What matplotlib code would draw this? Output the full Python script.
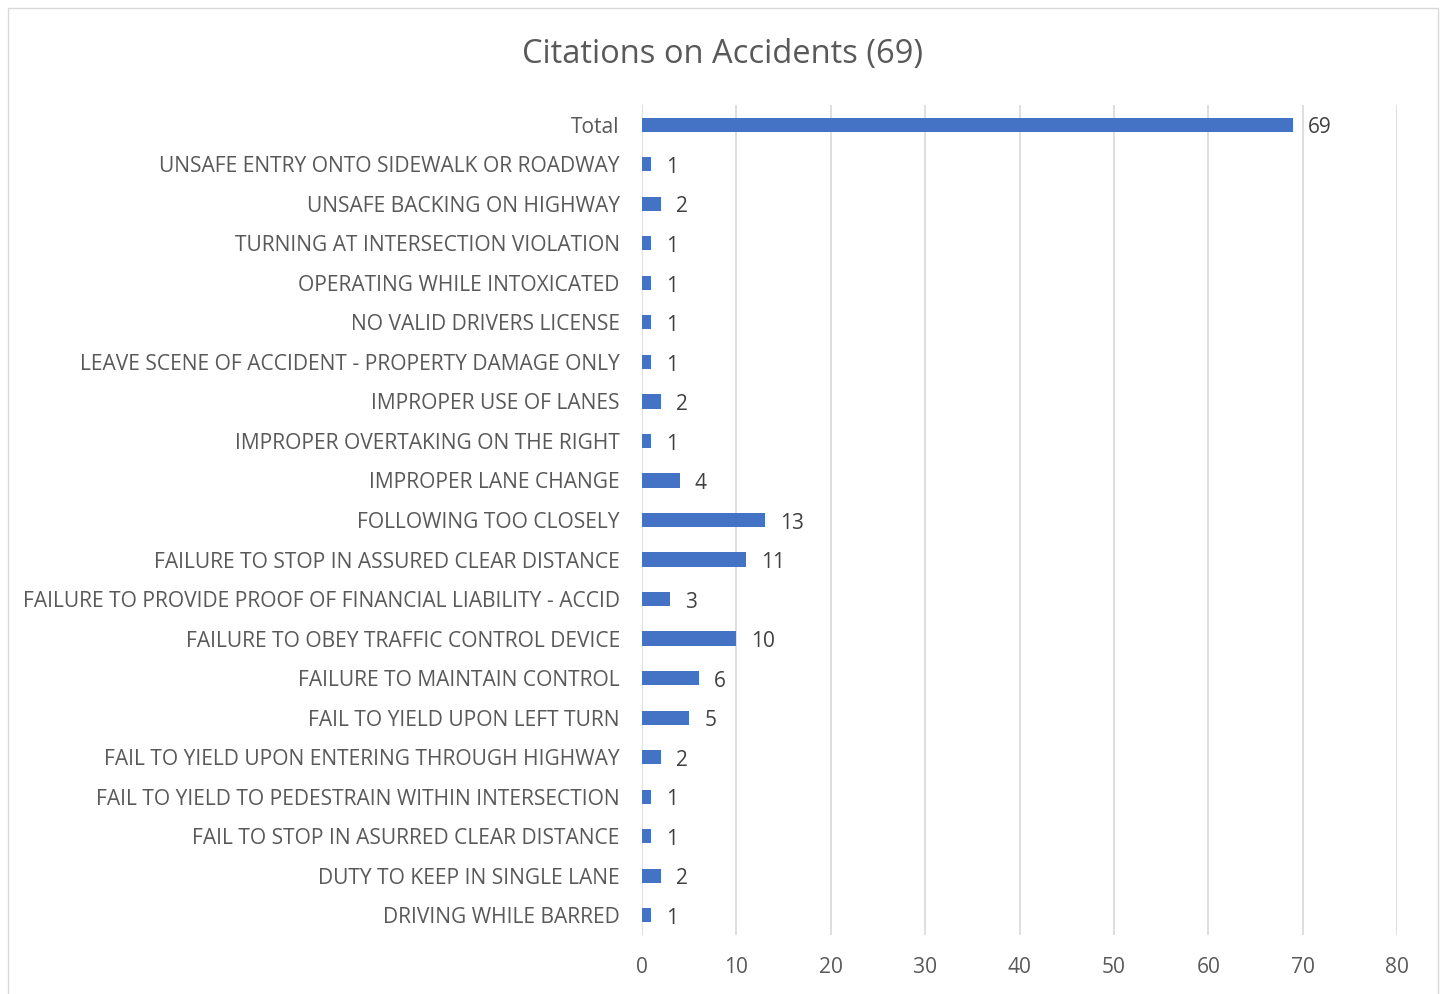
import matplotlib
matplotlib.use('Agg')
from matplotlib import pyplot as plt
from matplotlib.patches import Rectangle

categories = [
    'Total',
    'UNSAFE ENTRY ONTO SIDEWALK OR ROADWAY',
    'UNSAFE BACKING ON HIGHWAY',
    'TURNING AT INTERSECTION VIOLATION',
    'OPERATING WHILE INTOXICATED',
    'NO VALID DRIVERS LICENSE',
    'LEAVE SCENE OF ACCIDENT - PROPERTY DAMAGE ONLY',
    'IMPROPER USE OF LANES',
    'IMPROPER OVERTAKING ON THE RIGHT',
    'IMPROPER LANE CHANGE',
    'FOLLOWING TOO CLOSELY',
    'FAILURE TO STOP IN ASSURED CLEAR DISTANCE',
    'FAILURE TO PROVIDE PROOF OF FINANCIAL LIABILITY - ACCID',
    'FAILURE TO OBEY TRAFFIC CONTROL DEVICE',
    'FAILURE TO MAINTAIN CONTROL',
    'FAIL TO YIELD UPON LEFT TURN',
    'FAIL TO YIELD UPON ENTERING THROUGH HIGHWAY',
    'FAIL TO YIELD TO PEDESTRAIN WITHIN INTERSECTION',
    'FAIL TO STOP IN ASURRED CLEAR DISTANCE',
    'DUTY TO KEEP IN SINGLE LANE',
    'DRIVING WHILE BARRED',
]
counts = [69, 1, 2, 1, 1, 1, 1, 2, 1, 4, 13, 11, 3, 10, 6, 5, 2, 1, 1, 2, 1]
x_ticks = [0, 10, 20, 30, 40, 50, 60, 70, 80]

plt.rcParams['font.family'] = ['Open Sans', 'DejaVu Sans']
text_color = '#595959'

fig = plt.figure(figsize=(14.53, 9.94), dpi=100)
fig.patches.append(Rectangle((8 / 1453, -0.01), 1430 / 1453, 1 - 8 / 994 + 0.01,
                             transform=fig.transFigure, fill=False,
                             edgecolor='#D9D9D9', linewidth=1))
ax = fig.add_axes([642 / 1453, 1 - 935 / 994, (1397 - 642) / 1453, (935 - 105) / 994])

pos = list(range(len(categories)))
ax.barh(pos, counts, height=0.36, color='#4472C4', zorder=3)
for p, v in zip(pos, counts):
    ax.text(v + 1.6, p + 0.08, str(v), va='center', ha='left', fontsize=15, color='#404040')

ax.set_ylim(len(categories) - 0.5, -0.5)
ax.set_xlim(0, 80)
ax.set_xticks(x_ticks)
ax.set_yticks(pos)
ax.set_yticklabels(categories)
ax.tick_params(axis='both', length=0, labelsize=15.1, colors=text_color)
ax.tick_params(axis='y', pad=16)
ax.tick_params(axis='x', pad=16)
ax.grid(axis='x', color='#D9D9D9', linewidth=1.2, zorder=0)
for s in ax.spines.values():
    s.set_visible(False)

fig.text(723 / 1453, 1 - 54 / 994, 'Citations on Accidents (69)', ha='center', va='center',
         fontsize=23.5, color=text_color)

fig.savefig('out.png', dpi=100)
